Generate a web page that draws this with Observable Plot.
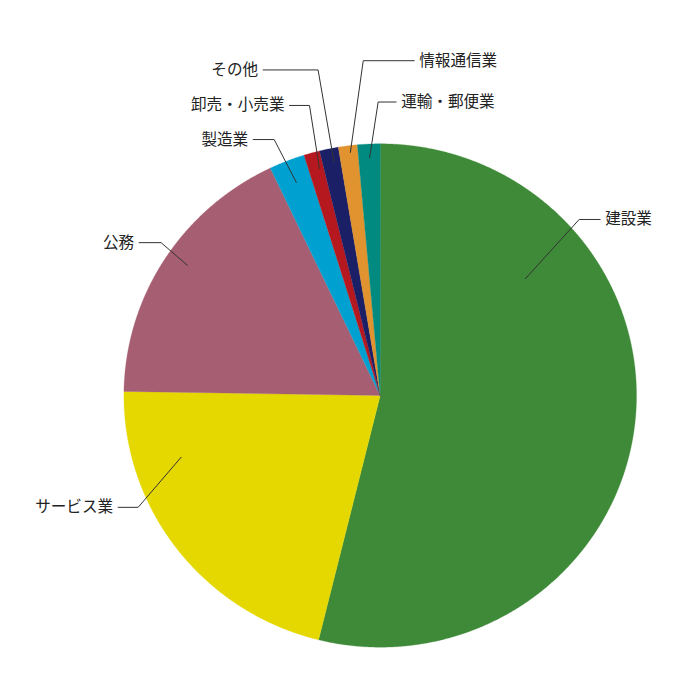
<!DOCTYPE html>
<html>
<head>
<meta charset="utf-8">
<script src="https://cdn.jsdelivr.net/npm/d3@7"></script>
<script src="https://cdn.jsdelivr.net/npm/@observablehq/plot@0.6"></script>
<style>
  html, body { margin: 0; padding: 0; background: #fff; }
  svg { display: block; font-family: "Noto Sans CJK JP", "Noto Sans", sans-serif; }
</style>
</head>
<body>
<div id="chart"></div>
<script>
// ---- data ----
const categories = ["建設業", "サービス業", "公務", "製造業", "卸売・小売業", "その他", "情報通信業", "運輸・郵便業"];
const shares = [53.86, 21.39, 17.69, 2.25, 1.0, 1.19, 1.19, 1.42];
const colors = ["#3e8a38", "#e5d800", "#a65e73", "#00a1d0", "#b5191f", "#1b1f66", "#e0932e", "#008a80"];

// ---- label layout (annotation geometry) ----
const anchorFrac = [0.264, 0.764, 0.52, 0.48, 0.64, 0.58, 0.56, 0.5];
const anchorRad = [0.736, 0.824, 0.92, 0.905, 0.929, 0.94, 0.968, 0.94];
const elbowAngle = [48.5, 245.2, 304.9, 337.5, 346.3, 349.2, 357.1, 359.6];
const elbowRad = [1.05, 1.054, 1.056, 1.095, 1.18, 1.31, 1.325, 1.16];
const tailLen = [21, 20, 22, 21, 20, 55, 51, 18];
const side = [1, -1, -1, -1, -1, -1, 1, 1];

const W = 700, H = 700;
const R = 253;               // nominal radius for leader geometry
const RX = 256.3, RY = 251.7; // pie radii
const cx = 379.7, cy = 395;   // centre in pixel frame

const data = categories.map((c, i) => ({category: c, value: shares[i], color: colors[i]}));
const arcs = d3.pie().sort(null).value(d => d.value)(data);

const toXY = (deg, rx, ry) => {
  const a = deg * Math.PI / 180;
  return [rx * Math.sin(a), ry * Math.cos(a)];
};

// slice polygons
const slicePts = [];
arcs.forEach((a, i) => {
  const s = a.startAngle * 180 / Math.PI, e = a.endAngle * 180 / Math.PI;
  slicePts.push({k: i, x: 0, y: 0});
  const n = Math.max(2, Math.ceil((e - s) / 0.25));
  for (let j = 0; j <= n; j++) {
    const [x, y] = toXY(s + (e - s) * j / n, RX, RY);
    slicePts.push({k: i, x, y});
  }
});

// leader lines + labels
const leaderPts = [];
const labels = [];
arcs.forEach((a, i) => {
  const s = a.startAngle * 180 / Math.PI, e = a.endAngle * 180 / Math.PI;
  const [x0, y0] = toXY(s + (e - s) * anchorFrac[i], R * anchorRad[i], R * anchorRad[i]);
  const [x1, y1] = toXY(elbowAngle[i], R * elbowRad[i], R * elbowRad[i]);
  const x2 = x1 + side[i] * tailLen[i];
  leaderPts.push({k: i, x: x0, y: y0}, {k: i, x: x1, y: y1}, {k: i, x: x2, y: y1});
  labels.push({text: categories[i], x: x2 + side[i] * 5, y: y1, anchor: side[i] > 0 ? "start" : "end"});
});

const plot = Plot.plot({
  width: W, height: H,
  margin: 0,
  x: {domain: [-cx, W - cx], range: [0, W], axis: null},
  y: {domain: [-(H - cy), cy], range: [H, 0], axis: null},
  color: {domain: d3.range(categories.length), range: colors},
  marks: [
    Plot.line(slicePts, {x: "x", y: "y", z: "k", fill: "k", stroke: "k", strokeWidth: 0.3, curve: "linear-closed"}),
    Plot.line(leaderPts, {x: "x", y: "y", z: "k", stroke: "#333", strokeWidth: 1}),
    Plot.text(labels.filter(d => d.anchor === "start"), {x: "x", y: "y", text: "text", textAnchor: "start", fontSize: 15.6, fill: "#222"}),
    Plot.text(labels.filter(d => d.anchor === "end"), {x: "x", y: "y", text: "text", textAnchor: "end", fontSize: 15.6, fill: "#222"})
  ]
});
document.getElementById("chart").appendChild(plot);
</script>
</body>
</html>
